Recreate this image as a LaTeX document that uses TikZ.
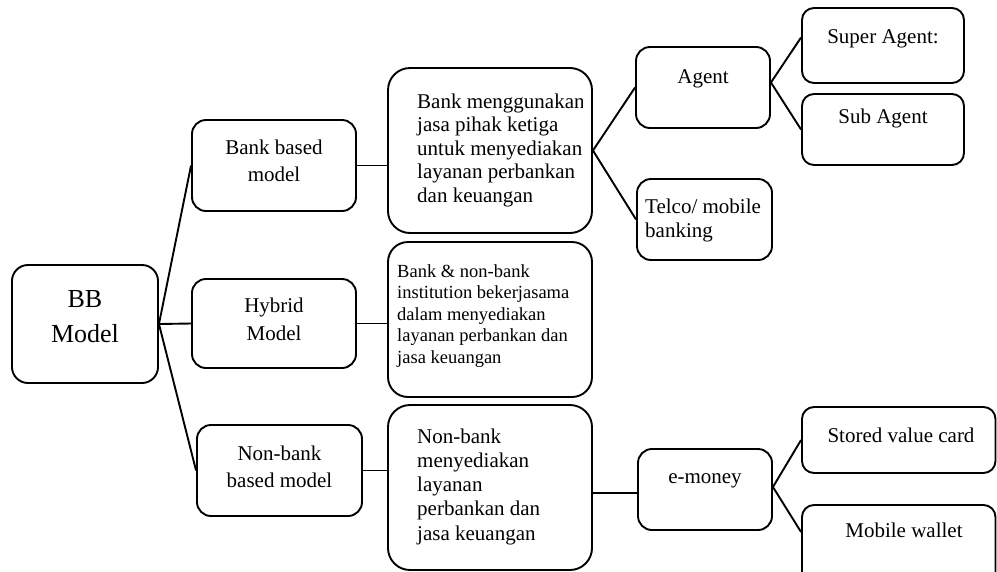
\documentclass[tikz,border=0pt]{standalone}
\usepackage{fontspec}
\setmainfont{Liberation Serif}
\usetikzlibrary{calc}
\begin{document}
\begin{tikzpicture}[x=1pt,y=-1pt,
  box/.style={draw, line width=1.9pt, rounded corners=14pt, inner sep=0pt},
  bigbox/.style={box, rounded corners=22pt},
  txt/.style={anchor=base, inner sep=0pt},
  ltxt/.style={anchor=base west, inner sep=0pt},
  link/.style={line width=1.9pt}]
\useasboundingbox (0,0) rectangle (997,571);
\clip (0,0) rectangle (997,571);

% boxes
\node[box, rounded corners=16pt, minimum width=146pt, minimum height=118pt] (bb) at (85,324) {};
\node[box, minimum width=164pt, minimum height=91pt] (bankbased) at (274,165.5) {};
\node[bigbox, minimum width=204pt, minimum height=165pt] (bankmeng) at (490,150.5) {};
\node[box, minimum width=134pt, minimum height=81pt] (agent) at (703,87.5) {};
\node[box, rounded corners=12pt, minimum width=162pt, minimum height=75pt] (super) at (883,45.5) {};
\node[box, rounded corners=12pt, minimum width=162pt, minimum height=71pt] (sub) at (883,129.5) {};
\node[box, minimum width=135pt, minimum height=81pt] (telco) at (704.5,219.5) {};
\node[box, minimum width=164pt, minimum height=89pt] (hybrid) at (274,323.5) {};
\node[bigbox, rounded corners=20pt, minimum width=204pt, minimum height=155pt] (hybtext) at (490,319.5) {};
\node[box, minimum width=165pt, minimum height=91pt] (nonbank) at (279.5,470.5) {};
\node[bigbox, minimum width=204pt, minimum height=165pt] (nbtext) at (490,487.5) {};
\node[box, minimum width=134pt, minimum height=81pt] (emoney) at (705,489.5) {};
\node[box, rounded corners=12pt, minimum width=193.5pt, minimum height=66pt] (stored) at (898.75,440) {};
\node[box, rounded corners=12pt, minimum width=193.5pt, minimum height=85pt] (mobile) at (898.75,547.5) {};

% texts
\node[txt] (bbT) at (85,307) {\parbox[t]{140pt}{\centering\fontsize{26}{35}\selectfont BB\\Model}};
\node[txt] (bankbasedT) at (274,154) {\parbox[t]{160pt}{\centering\fontsize{21}{27.5}\selectfont Bank based\\model}};
\begin{scope}
\clip (388,60) rectangle (582,240);
\node[ltxt] (bankmengT) at (417,108) {\parbox[t]{250pt}{\raggedright\fontsize{21}{23.5}\selectfont Bank menggunakan\\jasa pihak ketiga\\untuk menyediakan\\layanan perbankan\\dan keuangan}};
\end{scope}
\node[txt] (agentT) at (703,83) {\fontsize{21}{24}\selectfont Agent};
\node[txt] (superT) at (883,43) {\fontsize{21}{24}\selectfont Super Agent:};
\node[txt] (subT) at (883,123) {\fontsize{21}{24}\selectfont Sub Agent};
\node[ltxt] (telcoT) at (645,213) {\parbox[t]{130pt}{\raggedright\fontsize{21}{24.5}\selectfont Telco/ mobile\\banking}};
\node[txt] (hybridT) at (274,312) {\parbox[t]{160pt}{\centering\fontsize{21}{28}\selectfont Hybrid\\Model}};
\node[ltxt] (hybtextT) at (397,277) {\parbox[t]{200pt}{\raggedright\fontsize{18.5}{21.5}\selectfont Bank \& non-bank\\institution bekerjasama\\dalam menyediakan\\layanan perbankan dan\\jasa keuangan}};
\node[txt] (nonbankT) at (279.5,460) {\parbox[t]{160pt}{\centering\fontsize{21}{27}\selectfont Non-bank\\based model}};
\node[ltxt] (nbtextT) at (417,443) {\parbox[t]{200pt}{\raggedright\fontsize{21}{24.3}\selectfont Non-bank\\menyediakan\\layanan\\perbankan dan\\jasa keuangan}};
\node[txt] (emoneyT) at (705,483) {\fontsize{21}{24}\selectfont e-money};
\node[txt] (storedT) at (901,442) {\fontsize{21}{24}\selectfont Stored value card};
\node[txt] (mobileT) at (904,537) {\fontsize{21}{24}\selectfont Mobile wallet};

% connectors
\draw[link] (bb.east) -- (bankbased.west);
\draw[link] (bb.east) -- (hybrid.west);
\draw[link] (bb.east) -- (nonbank.west);
\draw[link] (bankbased.east) -- (bankbased.east -| bankmeng.west);
\draw[link] (bankmeng.east) -- (agent.west);
\draw[link] (bankmeng.east) -- (telco.west);
\coordinate (agE) at ([yshift=5pt]agent.east);
\draw[link] (agE) -- ([yshift=8pt]super.west);
\draw[link] (agE) -- (sub.west);
\draw[link] (hybrid.east) -- (hybrid.east -| hybtext.west);
\draw[link] (nonbank.east) -- (nonbank.east -| nbtext.west);
\coordinate (emW) at ([yshift=-3.5pt]emoney.west);
\draw[link] (emW -| nbtext.east) -- (emW);
\coordinate (emE) at ([yshift=2.5pt]emoney.east);
\draw[link] (emE) -- (stored.west);
\draw[link] (emE) -- ([yshift=15.5pt]mobile.west);
\end{tikzpicture}
\end{document}
